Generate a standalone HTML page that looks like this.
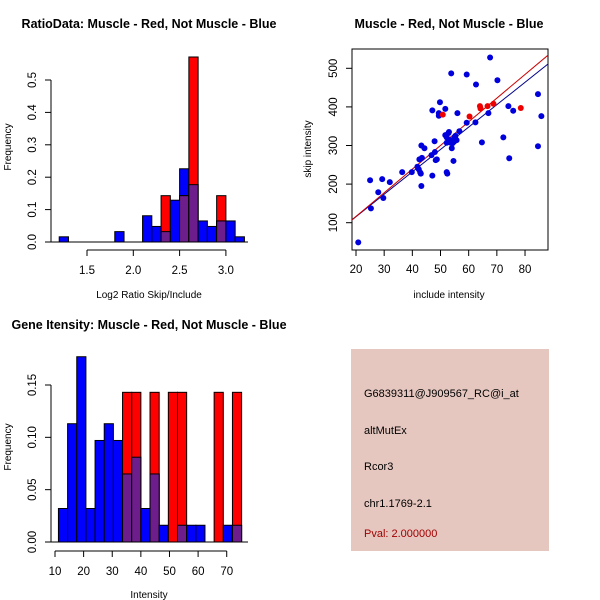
<!DOCTYPE html>
<html><head><meta charset="utf-8"><style>body{margin:0;background:#fff}svg{display:block}text{font-family:"Liberation Sans",sans-serif}</style></head>
<body>
<svg id="s" width="600" height="600" xmlns="http://www.w3.org/2000/svg">
<rect width="600" height="600" fill="#fff"/>
<text x="149" y="28" font-size="12.5" font-weight="bold" text-anchor="middle">RatioData: Muscle - Red, Not Muscle - Blue</text>
<text x="449" y="28" font-size="12.5" font-weight="bold" text-anchor="middle">Muscle - Red, Not Muscle - Blue</text>
<text x="149" y="329" font-size="12.5" font-weight="bold" text-anchor="middle">Gene Itensity: Muscle - Red, Not Muscle - Blue</text>
<g id="p1"></g>
<g id="p2"></g>
<g id="p3"></g>
<g>
<rect x="351" y="349" width="198" height="202" fill="#e6c7c0"/>
<text x="364" y="397" font-size="11">G6839311@J909567_RC@i_at</text>
<text x="364" y="434" font-size="11">altMutEx</text>
<text x="364" y="470" font-size="11">Rcor3</text>
<text x="364" y="507" font-size="11">chr1.1769-2.1</text>
<text x="364" y="537" font-size="11" fill="#a00000">Pval: 2.000000</text>
</g>
</svg>
<script>
const NS='http://www.w3.org/2000/svg';
const PURPLE='#6e1e8c';
// Plot 1 data
const ratioBinStart=1.2, ratioBinWidth=0.1;
const ratioBlue=[0.016,0,0,0,0,0,0.032,0,0,0.081,0.048,0.032,0.129,0.226,0.177,0.065,0.048,0.065,0.065,0.016];
const ratioRed=[0,0,0,0,0,0,0,0,0,0,0,0.143,0,0.143,0.571,0,0,0.143,0,0];
const ratioXTicks=[1.5,2.0,2.5,3.0];
const ratioYTicks=[0,0.1,0.2,0.3,0.4,0.5];
// Plot 2 data
const inclBlue=[20.8,25,25.3,27.9,29.3,29.7,32,36.4,39.8,41.8,42.3,42.5,42.8,43,43.2,43.2,43.4,44.3,46.8,47.1,47.1,47.9,48,48.3,48.7,49.4,49.4,49.8,51.7,51.7,52.2,52.2,52.2,52.8,53,53.4,53.6,54,54.3,54.8,55.1,54,54.6,55,55.3,55.7,52.4,53.8,56,56.7,59.3,59.3,62.6,62.4,64.7,67,67.6,70.2,72.3,74.1,74.4,75.8,84.6,84.6,85.8];
const skipBlue=[49,210,137,179,213,164,205,231,231,245,238,264,230,227,195,300,268,293,275,222,391,311,283,262,264,384,377,412,395,327,307,231,321,332,335,314,307,314,306,310,323,293,260,314,325,314,227,487,384,337,484,359,458,360,308,384,528,469,321,402,267,390,433,298,376];
const inclRed=[50.8,60.3,64,64.2,66.7,68.8,78.5];
const skipRed=[380,375,402,396,402,408,397];
const fitRed=[-6.4,6.13], fitBlue=[-0.3,5.80];
const scXTicks=[20,30,40,50,60,70,80];
const scYTicks=[100,200,300,400,500];
// Plot 3 data
const intBinStart=11.2, intBinWidth=3.2;
const intBlue=[0.032,0.113,0.177,0.032,0.097,0.113,0.097,0.065,0.081,0.032,0.065,0.016,0,0.016,0.016,0.016,0,0,0.016,0.016];
const intRed=[0,0,0,0,0,0,0,0.143,0.143,0,0.143,0,0.143,0.143,0,0,0,0.143,0,0.143];
const intXTicks=[10,20,30,40,50,60,70];
const intYTicks=[0,0.05,0.10,0.15];

function el(p,t,a){const e=document.createElementNS(NS,t);for(const k in a)e.setAttribute(k,a[k]);p.appendChild(e);return e;}
function txt(p,x,y,s,o){const e=el(p,'text',Object.assign({x:x,y:y,'font-size':11.5,'text-anchor':'middle'},o||{}));e.textContent=s;return e;}

function hist(g,start,w,blue,red,sx,sy,xt,yt,yfmt,xfmt,yAxisX,xAxisY,baseL,baseR){
  const y0=sy(0);
  for(let i=0;i<blue.length;i++){
    const x1=sx(start+i*w),x2=sx(start+(i+1)*w);
    const b=blue[i],r=red[i];
    if(b>0){const e=el(g,'rect',{x:x1,y:sy(b),width:x2-x1,height:y0-sy(b),fill:'#0000ff',stroke:'#000','stroke-width':1});
      }
    if(r>0){const e=el(g,'rect',{x:x1,y:sy(r),width:x2-x1,height:y0-sy(r),fill:'#ff0000',stroke:'#000','stroke-width':1});
      }
    const m=Math.min(b,r);
    if(m>0){const e=el(g,'rect',{x:x1,y:sy(m),width:x2-x1,height:y0-sy(m),fill:PURPLE,stroke:'#000','stroke-width':1});
      }
  }
  el(g,'line',{x1:baseL,x2:baseR,y1:y0,y2:y0,stroke:'#000'});
  el(g,'line',{x1:sx(xt[0]),x2:sx(xt[xt.length-1]),y1:xAxisY,y2:xAxisY,stroke:'#000'});
  xt.forEach(v=>{el(g,'line',{x1:sx(v),x2:sx(v),y1:xAxisY,y2:xAxisY+6,stroke:'#000'});txt(g,sx(v),xAxisY+24,xfmt(v));});
  el(g,'line',{x1:yAxisX,x2:yAxisX,y1:sy(yt[0]),y2:sy(yt[yt.length-1]),stroke:'#000'});
  yt.forEach(v=>{el(g,'line',{x1:yAxisX,x2:yAxisX-6,y1:sy(v),y2:sy(v),stroke:'#000'});
    txt(g,0,0,yfmt(v),{transform:`translate(${yAxisX-15},${sy(v)}) rotate(-90)`});});
}
// Plot 1
(function(){const g=document.getElementById('p1');
  const sx=v=>87+(v-1.5)*92.6, sy=v=>242-v*324;
  hist(g,ratioBinStart,ratioBinWidth,ratioBlue,ratioRed,sx,sy,ratioXTicks,ratioYTicks,v=>v.toFixed(1),v=>v.toFixed(1),51,250,51,248);
  txt(g,149,298,'Log2 Ratio Skip/Include',{'font-size':10});
  txt(g,0,0,'Frequency',{'font-size':10,transform:'translate(11,147) rotate(-90)'});
})();
// Plot 2
(function(){const g=document.getElementById('p2');
  const sx=v=>356+(v-20)*2.817, sy=v=>222.7-(v-100)*0.386;
  el(g,'rect',{x:352,y:49,width:196,height:201,fill:'none',stroke:'#000'});
  const cp=el(g,'clipPath',{id:'c2'});el(cp,'rect',{x:352,y:49,width:196,height:201});
  const lg=el(g,'g',{'clip-path':'url(#c2)'});
  [[fitBlue,'#00008b'],[fitRed,'#cc0000']].forEach(([f,c])=>{
    const e=el(lg,'line',{x1:sx(15),y1:sy(f[0]+f[1]*15),x2:sx(95),y2:sy(f[0]+f[1]*95),stroke:c,'stroke-width':1});
    });
  inclBlue.forEach((x,i)=>{const e=el(g,'circle',{cx:sx(x),cy:sy(skipBlue[i]),r:3,fill:'#0000dd'});
    });
  inclRed.forEach((x,i)=>{const e=el(g,'circle',{cx:sx(x),cy:sy(skipRed[i]),r:3,fill:'#ee0000'});
    });
  scXTicks.forEach(v=>{el(g,'line',{x1:sx(v),x2:sx(v),y1:250,y2:256,stroke:'#000'});txt(g,sx(v),273,String(v));});
  scYTicks.forEach(v=>{el(g,'line',{x1:352,x2:346,y1:sy(v),y2:sy(v),stroke:'#000'});
    txt(g,0,0,String(v),{transform:`translate(337,${sy(v)}) rotate(-90)`});});
  txt(g,449,298,'include intensity',{'font-size':10});
  txt(g,0,0,'skip intensity',{'font-size':10,transform:'translate(311,149) rotate(-90)'});
})();
// Plot 3
(function(){const g=document.getElementById('p3');
  const sx=v=>55+(v-10)*2.862, sy=v=>542-v*1046.7;
  hist(g,intBinStart,intBinWidth,intBlue,intRed,sx,sy,intXTicks,intYTicks,v=>v.toFixed(2),v=>String(v),51,551,51,248);
  txt(g,149,598,'Intensity',{'font-size':10});
  txt(g,0,0,'Frequency',{'font-size':10,transform:'translate(11,447) rotate(-90)'});
})();
</script>
</body></html>
